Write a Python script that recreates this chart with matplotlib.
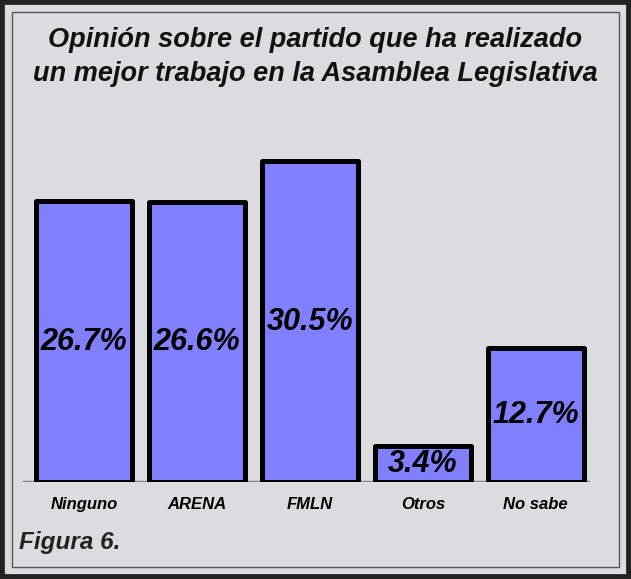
import matplotlib.pyplot as plt
from matplotlib.patches import Rectangle

categorias = ['Ninguno', 'ARENA', 'FMLN', 'Otros', 'No sabe']
porcentajes = [26.7, 26.6, 30.5, 3.4, 12.7]
titulo = 'Opinión sobre el partido que ha realizado\nun mejor trabajo en la Asamblea Legislativa'

plt.rcParams['font.family'] = ['Liberation Sans', 'DejaVu Sans']

fig = plt.figure(figsize=(6.31, 5.79), dpi=100)
fig.patch.set_facecolor('#dcdcde')

# marco exterior oscuro y linea interior fina
fig.patches.append(Rectangle((0, 0), 1, 1, transform=fig.transFigure, fill=False,
                             edgecolor='#222222', linewidth=7, zorder=0))
fig.patches.append(Rectangle((12 / 631, 12 / 579), 607 / 631, 555 / 579, transform=fig.transFigure,
                             fill=False, edgecolor='#555555', linewidth=1, zorder=0))

ax = fig.add_axes([23 / 631, 97 / 579, 567 / 631, 336.6 / 579])
ax.set_facecolor('none')

pos = range(len(categorias))
ax.axhline(0, color='#888888', linewidth=2.5, zorder=1)
barras = ax.bar(pos, porcentajes, width=0.85, color='#8080ff', edgecolor='black',
                linewidth=3.6, zorder=2)
for b in barras:
    b.set_joinstyle('round')

for x, v in zip(pos, porcentajes):
    ax.text(x, v / 2, f'{v}%', ha='center', va='center', fontsize=22,
            fontweight='bold', fontstyle='italic', color='black', zorder=3)

ax.set_xlim(-0.54, 4.48)
ax.set_ylim(0, 32)
ax.set_xticks(list(pos))
ax.set_xticklabels(categorias, fontsize=12, fontweight='bold', fontstyle='italic')
ax.tick_params(axis='x', length=0, pad=11)
ax.set_yticks([])
for s in ax.spines.values():
    s.set_visible(False)

fig.text(0.5, 1 - 57 / 579, titulo, ha='center', va='center', fontsize=19.5,
         fontweight='bold', fontstyle='italic', linespacing=1.36, color='#111111')
fig.text(19 / 631, 1 - 543 / 579, 'Figura 6.', ha='left', va='center', fontsize=17.5,
         fontweight='bold', fontstyle='italic', color='#222222')

fig.savefig('out.png', dpi=100, facecolor=fig.get_facecolor())
